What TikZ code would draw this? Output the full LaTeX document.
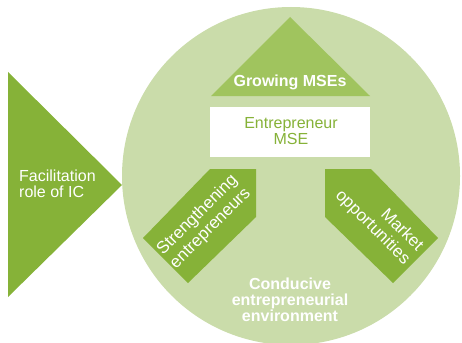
\documentclass[tikz,border=0pt]{standalone}
\usepackage{fontspec}
\setmainfont{Liberation Sans}
\definecolor{leafdark}{HTML}{86B238}
\definecolor{leafmid}{HTML}{A0C45E}
\definecolor{leaflight}{HTML}{CADCAA}
\begin{document}
\begin{tikzpicture}[x=1pt,y=-1pt,
  label/.style={text=white,inner sep=0pt,font=\fontsize{16}{16}\selectfont},
  boldlabel/.style={label,font=\fontsize{16}{16}\selectfont\bfseries},
  tiltlabel/.style={label,font=\fontsize{17}{18.5}\selectfont}]
\useasboundingbox (0,0) rectangle (462,342);
% environment circle
\fill[leaflight] (291,176) circle[radius=169];
% facilitation arrow
\fill[leafdark] (8,72) -- (122,185) -- (8,297) -- cycle;
% growth triangle
\fill[leafmid] (290,17) -- (370,96) -- (211,96) -- cycle;
% central box
\fill[white] (210,107) rectangle (370,157);
% two diagonal pointers
\fill[leafdark] (143,238) -- (210,169) -- (256,169) -- (256,217) -- (188,283) -- cycle;
\fill[leafdark] (438,238) -- (371,169) -- (325,169) -- (325,217) -- (393,283) -- cycle;
% texts (multi-line nodes sit on the baseline of their last line)
\node[label,align=left,anchor=base west] (fac) at (19,197) {Facilitation\\role of IC};
\node[boldlabel,anchor=base] (grow) at (290,86) {Growing MSEs};
\node[label,text=leafdark,align=center,anchor=base] (mse) at (291,144) {Entrepreneur\\MSE};
\node[tiltlabel,align=center,rotate=45] (str) at (204,222) {Strengthening\\entrepreneurs};
\node[tiltlabel,align=right,rotate=-45] (mkt) at (379,221) {Market\\opportunities};
\node[boldlabel,align=center,anchor=base] (env) at (290,321) {Conducive\\entrepreneurial\\environment};
\end{tikzpicture}
\end{document}
